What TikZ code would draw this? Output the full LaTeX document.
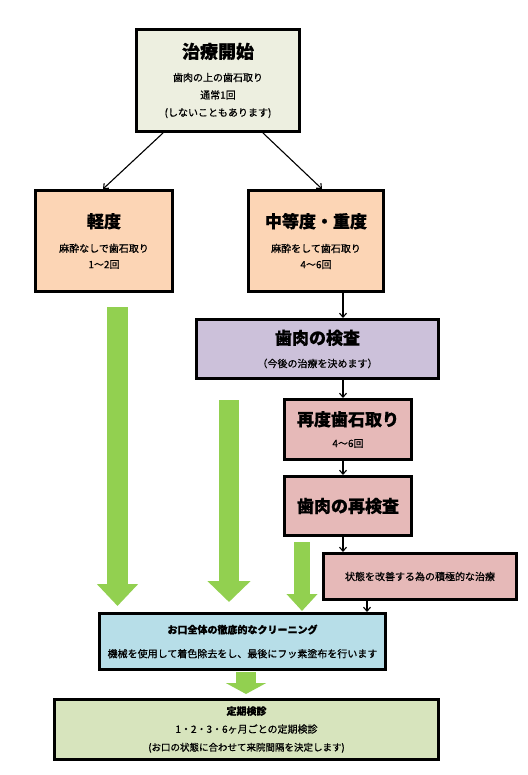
\documentclass[tikz,border=0pt]{standalone}
\usepackage{fontspec}
\setmainfont{Noto Sans CJK JP}
\usetikzlibrary{arrows.meta}
\definecolor{startfill}{HTML}{EDEFE0}
\definecolor{stagefill}{HTML}{FCD5B5}
\definecolor{examfill}{HTML}{CCC1DA}
\definecolor{treatfill}{HTML}{E6B9B8}
\definecolor{cleanfill}{HTML}{B7DEE8}
\definecolor{checkfill}{HTML}{D7E4BD}
\definecolor{bargreen}{HTML}{92D050}
\tikzset{box/.style = {draw, line width=3pt, align=center, inner sep=0pt,
                       font=\fontsize{10}{16}\selectfont\addfontfeature{FakeBold=0.6}}}
\tikzset{link/.style = {line width=1.1pt, -{Straight Barb[length=4pt,width=7pt]}}}
\tikzset{bigarrow/.style = {draw=bargreen, fill=bargreen}}
\newcommand{\boxtitle}[1]{{\fontsize{17}{17}\selectfont\bfseries #1}}

\begin{document}
\begin{tikzpicture}[x=1pt, y=-1pt]
      \fill[white] (0,0) rectangle (527,775);
      \useasboundingbox (0,0) rectangle (527,775);

      \node[box, fill=startfill, minimum width=163pt, minimum height=102pt,
            font=\fontsize{10}{17.5}\selectfont\addfontfeature{FakeBold=0.6}] (start) at (218,80.5)
        {{\fontsize{18}{18}\selectfont\bfseries 治療開始}\\[5.5pt]
         歯肉の上の歯石取り\\ 通常1回\\ (しないこともあります)};
      \node[box, fill=stagefill, minimum width=137pt, minimum height=101pt] (light) at (104,241)
        {\boxtitle{軽度}\\[8.5pt] 麻酔なしで歯石取り\\ 1～2回};
      \node[box, fill=stagefill, minimum width=135pt, minimum height=101pt] (medium) at (316,241)
        {\boxtitle{中等度・重度}\\[8.5pt] 麻酔をして歯石取り\\ 4～6回};
      \node[box, fill=examfill, minimum width=242pt, minimum height=59pt] (exam) at (317.5,349)
        {\boxtitle{歯肉の検査}\\[7pt] （今後の治療を決めます）};
      \node[box, fill=treatfill, minimum width=127pt, minimum height=60pt] (rescale) at (348,429.5)
        {\boxtitle{再度歯石取り}\\[5.3pt] 4～6回};
      \node[box, fill=treatfill, minimum width=127pt, minimum height=59pt] (reexam) at (348,506)
        {\boxtitle{歯肉の再検査}};
      \node[box, fill=treatfill, minimum width=193pt, minimum height=46pt] (improve) at (420,576.5)
        {状態を改善する為の積極的な治療};
      \node[box, fill=cleanfill, minimum width=286pt, minimum height=56pt] (clean) at (242.5,641.5)
        {\textbf{お口全体の徹底的なクリーニング}\\[8pt]
         機械を使用して着色除去をし、最後にフッ素塗布を行います};
      \node[box, fill=checkfill, minimum width=384pt, minimum height=60pt,
            font=\fontsize{10}{18}\selectfont\addfontfeature{FakeBold=0.6}] (regular) at (246.5,729.5)
        {\textbf{定期検診}\\ 1・2・3・6ヶ月ごとの定期検診\\
         {\fontsize{9.5}{18}\selectfont\addfontfeature{FakeBold=0.6} (お口の状態に合わせて来院間隔を決定します)}};

      % thin arrows
      \draw[link] ([xshift=-55pt]start.south) -- ([xshift=-1pt]light.north);
      \draw[link] ([xshift=45pt]start.south) -- ([xshift=6pt]medium.north);
      \draw[link] ([xshift=27pt]medium.south) -- ([xshift=-5pt]exam.north -| rescale);
      \draw[link] ([xshift=-5pt]exam.south -| rescale) -- ([xshift=-5pt]rescale.north);
      \draw[link] ([xshift=-5pt]rescale.south) -- ([xshift=-5pt]reexam.north);
      \draw[link] ([xshift=-5pt]reexam.south) -- (improve.north -| 343,0);
      \draw[link] ([xshift=-53pt]improve.south) -- ([xshift=-53pt]improve.south |- clean.north);

      % green arrows
      \coordinate (g1) at (117.5,307);
      \coordinate (g2) at (229,400);
      \coordinate (g3) at (302,542);
      \coordinate (g4) at (clean.south -| 246,0);
      \draw[bargreen, line width=21pt, -{Triangle[length=22pt,width=40pt]}, shorten >=6pt]
        (g1) -- (g1 |- clean.north);
      \draw[bargreen, line width=20pt, -{Triangle[length=21pt,width=42pt]}, shorten >=10pt]
        (g2) -- (g2 |- clean.north);
      \draw[bargreen, line width=16pt, -{Triangle[length=17pt,width=30pt]}, shorten >=1pt]
        (g3) -- (g3 |- clean.north);
      \draw[bargreen, line width=20pt, -{Triangle[length=11pt,width=40pt]}, shorten >=4pt]
        ([yshift=-1pt]g4) -- (g4 |- regular.north);
\end{tikzpicture}
\end{document}
